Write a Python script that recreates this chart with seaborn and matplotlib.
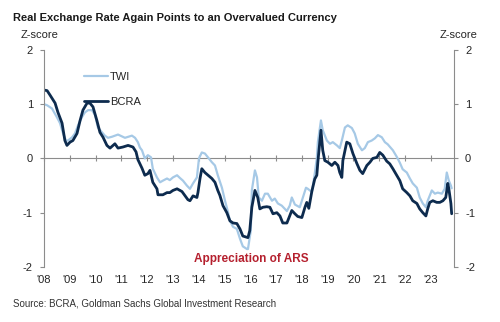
import matplotlib
matplotlib.use("Agg")
import matplotlib.pyplot as plt
import pandas as pd
import seaborn as sns

# ---- data (decimal years, z-scores) ----
twi_x = [2008.00, 2008.12, 2008.31, 2008.50, 2008.62, 2008.74, 2008.85, 2008.93, 2009.09, 2009.20,
         2009.32, 2009.47, 2009.59, 2009.71, 2009.86, 2009.98, 2010.09, 2010.25, 2010.36, 2010.48,
         2010.64, 2010.87, 2011.14, 2011.41, 2011.53, 2011.64, 2011.72, 2011.80, 2011.91, 2012.03,
         2012.15, 2012.22, 2012.38, 2012.50, 2012.61, 2012.77, 2012.88, 2013.00, 2013.16, 2013.27,
         2013.39, 2013.54, 2013.66, 2013.78, 2013.93, 2014.01, 2014.12, 2014.24, 2014.36, 2014.51,
         2014.63, 2014.74, 2014.90, 2015.02, 2015.13, 2015.21, 2015.33, 2015.48, 2015.60, 2015.71,
         2015.87, 2015.91, 2016.02, 2016.06, 2016.18, 2016.26, 2016.33, 2016.45, 2016.57, 2016.68,
         2016.84, 2016.95, 2017.07, 2017.22, 2017.42, 2017.53, 2017.61, 2017.73, 2017.92, 2018.04,
         2018.16, 2018.23, 2018.39, 2018.50, 2018.58, 2018.62, 2018.74, 2018.81, 2018.97, 2019.09,
         2019.20, 2019.36, 2019.47, 2019.55, 2019.67, 2019.78, 2019.94, 2020.05, 2020.17, 2020.33,
         2020.44, 2020.56, 2020.71, 2020.83, 2020.95, 2021.10, 2021.22, 2021.33, 2021.53, 2021.68,
         2021.80, 2021.91, 2022.07, 2022.19, 2022.30, 2022.46, 2022.57, 2022.69, 2022.81, 2022.88,
         2023.04, 2023.16, 2023.27, 2023.43, 2023.54, 2023.62, 2023.70, 2023.78, 2023.81]
twi_y = [1.00, 0.98, 0.92, 0.76, 0.65, 0.46, 0.33, 0.33, 0.39, 0.46,
         0.61, 0.76, 0.85, 0.89, 0.89, 0.80, 0.57, 0.48, 0.42, 0.38,
         0.40, 0.44, 0.38, 0.42, 0.38, 0.30, 0.20, 0.15, 0.00, 0.06,
         0.02, -0.19, -0.35, -0.44, -0.41, -0.37, -0.40, -0.35, -0.31, -0.36,
         -0.41, -0.50, -0.56, -0.46, -0.35, 0.00, 0.11, 0.09, 0.02, -0.07,
         -0.13, -0.31, -0.54, -0.78, -0.98, -1.15, -1.26, -1.30, -1.48, -1.62,
         -1.67, -1.67, -1.33, -0.59, -0.22, -0.35, -0.72, -0.78, -0.65, -0.65,
         -0.78, -0.74, -0.83, -0.87, -0.97, -0.87, -0.72, -0.85, -0.90, -0.72,
         -0.54, -0.56, -0.62, -0.28, 0.00, 0.30, 0.70, 0.52, 0.33, 0.27,
         0.30, 0.24, 0.19, 0.33, 0.57, 0.61, 0.56, 0.46, 0.27, 0.15,
         0.19, 0.30, 0.33, 0.37, 0.43, 0.39, 0.30, 0.26, 0.15, 0.03,
         -0.08, -0.20, -0.26, -0.37, -0.46, -0.54, -0.72, -0.83, -0.90, -0.78,
         -0.59, -0.65, -0.63, -0.65, -0.56, -0.26, -0.41, -0.50, -0.55]

bcra_x = [2008.00, 2008.12, 2008.23, 2008.43, 2008.54, 2008.70, 2008.81, 2008.89, 2009.01, 2009.12,
          2009.28, 2009.40, 2009.51, 2009.67, 2009.78, 2009.90, 2010.05, 2010.17, 2010.29, 2010.44,
          2010.56, 2010.75, 2010.87, 2011.06, 2011.26, 2011.45, 2011.57, 2011.64, 2011.80, 2011.91,
          2012.03, 2012.11, 2012.22, 2012.38, 2012.42, 2012.61, 2012.77, 2012.88, 2013.00, 2013.16,
          2013.35, 2013.47, 2013.58, 2013.66, 2013.78, 2013.93, 2013.97, 2014.05, 2014.12, 2014.24,
          2014.36, 2014.51, 2014.63, 2014.74, 2014.82, 2014.94, 2015.09, 2015.21, 2015.33, 2015.48,
          2015.60, 2015.71, 2015.91, 2015.98, 2016.06, 2016.18, 2016.29, 2016.37, 2016.49, 2016.64,
          2016.76, 2016.88, 2017.03, 2017.15, 2017.26, 2017.42, 2017.53, 2017.61, 2017.73, 2017.84,
          2018.00, 2018.12, 2018.19, 2018.27, 2018.39, 2018.50, 2018.58, 2018.62, 2018.74, 2018.81,
          2018.89, 2019.01, 2019.16, 2019.28, 2019.40, 2019.47, 2019.55, 2019.59, 2019.74, 2019.86,
          2019.98, 2020.13, 2020.25, 2020.36, 2020.52, 2020.64, 2020.75, 2020.91, 2021.02, 2021.14,
          2021.29, 2021.41, 2021.53, 2021.68, 2021.80, 2021.91, 2022.07, 2022.19, 2022.30, 2022.46,
          2022.57, 2022.69, 2022.81, 2022.88, 2022.96, 2023.08, 2023.23, 2023.35, 2023.47, 2023.58,
          2023.66, 2023.70, 2023.78, 2023.81]
bcra_y = [1.26, 1.25, 1.17, 1.02, 0.85, 0.65, 0.33, 0.24, 0.30, 0.33,
          0.46, 0.70, 0.89, 1.02, 1.02, 0.95, 0.70, 0.48, 0.39, 0.24,
          0.19, 0.27, 0.19, 0.21, 0.24, 0.21, 0.12, -0.02, -0.18, -0.31,
          -0.28, -0.22, -0.44, -0.56, -0.67, -0.67, -0.63, -0.63, -0.59, -0.56,
          -0.61, -0.69, -0.76, -0.78, -0.69, -0.72, -0.63, -0.37, -0.19, -0.26,
          -0.31, -0.37, -0.44, -0.59, -0.68, -0.87, -1.00, -1.15, -1.19, -1.20,
          -1.30, -1.43, -1.46, -1.33, -0.90, -0.59, -0.72, -0.93, -0.90, -0.89,
          -0.90, -1.02, -1.00, -1.06, -1.19, -1.19, -1.06, -0.96, -1.02, -1.07,
          -1.09, -0.90, -0.81, -0.92, -0.60, -0.38, -0.31, -0.07, 0.52, 0.15,
          -0.04, -0.07, -0.13, -0.07, -0.13, -0.26, -0.35, -0.04, 0.30, 0.27,
          0.09, -0.09, -0.22, -0.28, -0.13, -0.07, 0.00, 0.02, 0.11, 0.06,
          -0.05, -0.10, -0.19, -0.31, -0.41, -0.56, -0.63, -0.69, -0.78, -0.83,
          -0.93, -1.00, -1.06, -0.93, -0.81, -0.78, -0.81, -0.81, -0.78, -0.72,
          -0.46, -0.56, -0.83, -1.02]

series_names = ["TWI", "BCRA"]
year_ticks = list(range(2008, 2024))
year_labels = ["'%02d" % (y % 100) for y in year_ticks]
y_ticks = [-2, -1, 0, 1, 2]

# ---- style ----
sns.set_theme(style="white")
plt.rcParams['font.family'] = ['Liberation Sans', 'DejaVu Sans']

GRAY = "#8c8c8c"
TEXT = "#262626"
C_TWI = "#a6c9e6"
C_BCRA = "#0d2b4e"

df_twi = pd.DataFrame({"date": twi_x, "z": twi_y})
df_bcra = pd.DataFrame({"date": bcra_x, "z": bcra_y})

fig = plt.figure(figsize=(5, 3.22), dpi=100)
ax = fig.add_axes([0.088, 0.171, 0.82, 0.674])

sns.lineplot(data=df_twi, x="date", y="z", color=C_TWI, linewidth=1.6,
             label=series_names[0], ax=ax, estimator=None)
sns.lineplot(data=df_bcra, x="date", y="z", color=C_BCRA, linewidth=2.0,
             label=series_names[1], ax=ax, estimator=None)

ax.set_xlim(2008, 2023.9)
ax.set_ylim(-2, 2)
ax.set_xlabel("")
ax.set_ylabel("")

for s in ["top", "bottom"]:
    ax.spines[s].set_visible(False)
for s in ["left", "right"]:
    ax.spines[s].set_visible(True)
    ax.spines[s].set_color(GRAY)
    ax.spines[s].set_linewidth(0.8)

ax.set_yticks(y_ticks)
ax.set_yticklabels([str(v) for v in y_ticks])
ax.tick_params(axis="y", which="both", left=True, right=True, labelleft=True,
               labelright=True, direction="out", length=3, width=0.8, color=GRAY,
               labelsize=8, labelcolor=TEXT, pad=5)

ax.set_xticks(year_ticks)
ax.set_xticklabels(year_labels)
ax.tick_params(axis="x", length=0, labelsize=8, labelcolor=TEXT, pad=6)

# zero line with year tick marks
sec = ax.secondary_xaxis(0.5)
sec.set_xticks(year_ticks)
sec.tick_params(direction="inout", length=5, width=0.8, color=GRAY,
                labeltop=False, labelbottom=False)
for s in sec.spines.values():
    s.set_color(GRAY)
    s.set_linewidth(0.8)

leg = ax.legend(loc="upper left", bbox_to_anchor=(0.097, 0.90), frameon=False,
                fontsize=8, handlelength=2.2, handletextpad=0.15,
                labelspacing=1.4, borderaxespad=0, borderpad=0)
for t in leg.get_texts():
    t.set_color(TEXT)

ax.text(0.505, 0.035, "Appreciation of ARS", transform=ax.transAxes,
        ha="center", va="center", fontsize=8.5, fontweight="bold", color="#b5202e")

fig.text(0.026, 0.945, "Real Exchange Rate Again Points to an Overvalued Currency",
         ha="left", va="center", fontsize=8, fontweight="bold", color="#1a1a1a")
fig.text(0.042, 0.89, "Z-score", ha="left", va="center", fontsize=8, color=TEXT)
fig.text(0.955, 0.89, "Z-score", ha="right", va="center", fontsize=8, color=TEXT)
fig.text(0.026, 0.058, "Source: BCRA, Goldman Sachs Global Investment Research",
         ha="left", va="center", fontsize=7, color="#333333")

fig.savefig("out.png", dpi=100)
